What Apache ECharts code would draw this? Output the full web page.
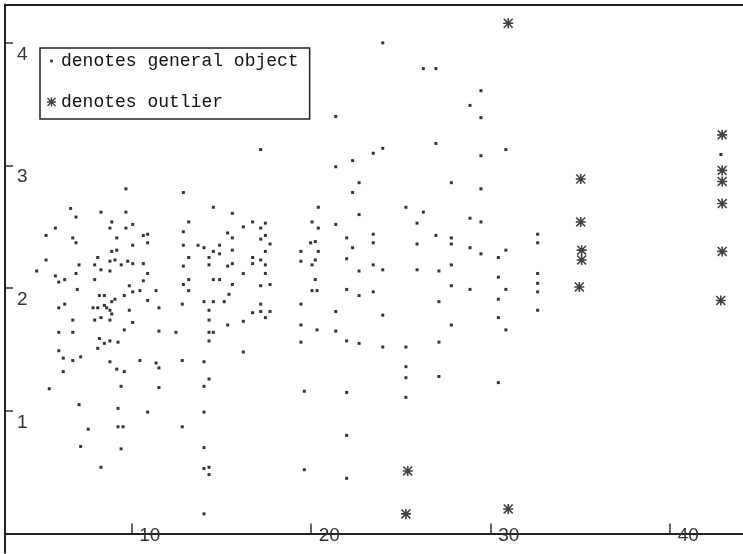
<!DOCTYPE html>
<html>
<head>
<meta charset="utf-8">
<script src="https://cdn.jsdelivr.net/npm/echarts@6/dist/echarts.min.js"></script>
<style>html,body{margin:0;padding:0;background:#fff}#c{width:743px;height:554px}</style>
</head>
<body>
<div id="c"></div>
<script>
const xTicks = [10, 20, 30, 40];
const yTicks = [1, 2, 3, 4];
const seriesNames = ['denotes general object', 'denotes outlier'];

const generalObjects = [
[9.70,2.81],[12.90,2.78],[6.62,2.65],[8.31,2.62],[9.70,2.62],[14.57,2.66],[15.63,2.61],[6.92,2.58],[8.91,2.54],[13.20,2.54],
[5.77,2.49],[8.81,2.49],[9.70,2.49],[10.08,2.52],[16.24,2.50],[12.90,2.46],[15.37,2.45],[5.25,2.43],[6.74,2.41],[9.19,2.41],
[10.67,2.43],[10.91,2.44],[15.63,2.41],[6.92,2.37],[10.91,2.37],[10.08,2.35],[12.90,2.35],[13.72,2.35],[14.05,2.33],[14.92,2.35],
[8.91,2.30],[9.19,2.31],[14.57,2.30],[14.92,2.28],[15.63,2.31],[8.13,2.25],[13.20,2.25],[14.33,2.25],[5.25,2.23],[8.81,2.22],
[9.09,2.23],[9.80,2.22],[10.08,2.20],[10.67,2.20],[7.09,2.19],[7.96,2.19],[9.44,2.19],[14.33,2.19],[15.63,2.20],[15.37,2.18],
[12.90,2.18],[4.73,2.14],[8.31,2.15],[8.81,2.14],[6.92,2.12],[10.91,2.12],[16.24,2.12],[5.77,2.10],[5.96,2.05],[6.29,2.07],
[7.96,2.07],[13.20,2.07],[14.57,2.07],[14.92,2.07],[10.67,2.06],[9.89,2.02],[12.90,2.03],[15.63,2.03],[6.99,1.99],[13.20,1.98],
[10.08,1.97],[10.48,1.98],[11.38,1.98],[8.22,1.94],[8.50,1.94],[9.61,1.94],[15.44,1.95],[9.09,1.91],[8.91,1.89],[10.91,1.90],
[14.05,1.89],[14.57,1.89],[15.18,1.89],[12.84,1.87],[6.29,1.87],[8.50,1.86],[5.96,1.84],[7.87,1.84],[8.13,1.84],[8.63,1.84],
[8.81,1.82],[9.89,1.82],[11.54,1.84],[14.33,1.82],[8.91,1.79],[6.74,1.74],[7.96,1.74],[8.31,1.76],[8.81,1.74],[14.33,1.74],
[16.24,1.73],[10.08,1.72],[15.37,1.70],[9.61,1.66],[5.96,1.64],[6.74,1.64],[11.54,1.65],[12.49,1.64],[14.33,1.64],[14.57,1.64],
[8.22,1.59],[8.50,1.55],[8.81,1.57],[9.26,1.56],[14.33,1.57],[8.13,1.51],[5.96,1.49],[16.24,1.48],[6.21,1.43],[6.74,1.41],
[7.18,1.44],[8.81,1.40],[10.48,1.41],[11.38,1.39],[11.54,1.35],[12.84,1.41],[14.05,1.40],[6.21,1.32],[9.19,1.34],[9.61,1.32],
[14.33,1.26],[5.43,1.18],[9.43,1.20],[11.54,1.19],[14.05,1.20],[7.09,1.05],[9.26,1.02],[10.91,0.99],[14.05,0.99],[7.60,0.85],
[9.26,0.87],[9.54,0.87],[12.84,0.87],[7.18,0.71],[9.43,0.69],[14.05,0.70],[8.31,0.54],[14.05,0.53],[14.33,0.54],[14.33,0.48],
[14.05,0.16],
[24.01,4.00],[26.27,3.79],[26.97,3.79],[29.48,3.61],[28.87,3.49],[29.48,3.39],[21.39,3.40],[17.21,3.13],[24.01,3.14],[23.48,3.10],
[26.97,3.18],[22.33,3.04],[29.48,3.08],[21.39,2.99],[22.69,2.86],[27.83,2.86],[22.33,2.78],[29.48,2.81],
[20.42,2.66],[25.30,2.66],[26.27,2.62],[16.76,2.54],[17.21,2.49],[17.47,2.53],[20.07,2.54],[20.42,2.49],[21.39,2.52],[22.69,2.60],
[25.92,2.53],[28.87,2.57],[29.48,2.54],[17.21,2.40],[17.47,2.43],[17.73,2.36],[19.99,2.37],[20.25,2.38],[22.00,2.41],[23.48,2.44],
[23.48,2.37],[26.97,2.43],[27.83,2.41],[27.83,2.36],[25.92,2.36],[22.33,2.33],[28.87,2.33],[17.47,2.30],[19.45,2.30],[20.42,2.30],
[29.48,2.28],[16.76,2.25],[17.21,2.23],[19.45,2.22],[20.25,2.23],[22.00,2.24],[30.45,2.25],[16.76,2.20],[17.47,2.19],[20.07,2.19],
[23.48,2.19],[27.83,2.19],[17.47,2.12],[22.69,2.14],[24.01,2.15],[25.92,2.15],[27.14,2.14],[20.25,2.07],[30.45,2.09],[17.21,2.02],
[17.73,2.03],[20.07,1.98],[20.35,1.98],[27.83,2.02],[28.87,1.99],[22.00,1.99],[22.69,1.94],[23.48,1.97],[30.45,1.91],[19.45,1.87],
[27.14,1.89],[17.21,1.87],[16.76,1.80],[17.21,1.81],[17.73,1.81],[17.47,1.76],[21.39,1.81],[24.01,1.78],[30.45,1.76],[19.45,1.70],
[27.83,1.70],[20.35,1.66],[21.39,1.65],[22.00,1.57],[22.69,1.55],[19.45,1.56],[27.14,1.56],[24.01,1.52],[25.30,1.52],[25.30,1.36],
[25.30,1.27],[27.14,1.28],
[30.45,1.23],[25.30,1.11],[19.64,1.16],[22.00,1.15],[22.00,0.80],[19.64,0.52],[22.00,0.45],
[30.87,3.13],[42.85,3.09],[32.64,2.44],[32.64,2.37],[30.87,2.31],[32.64,2.12],[32.64,2.04],[30.87,1.99],[32.64,1.97],[32.64,1.82],
[30.87,1.66]
];

const outliers = [
[31.00,4.16],[35.04,2.89],[35.04,2.54],[35.09,2.31],[35.09,2.23],[34.96,2.01],[42.92,3.25],[42.92,2.96],[42.92,2.87],[42.92,2.69],
[42.92,2.30],[42.84,1.90],[25.40,0.51],[25.30,0.16],[31.00,0.20]
];

const STAR = 'path://M0,4.2H10V5.8H0Z M4.2,0H5.8V10H4.2Z M1.1,0L10,8.9L8.9,10L0,1.1Z M8.9,0L10,1.1L1.1,10L0,8.9Z';
const DOT_ICON = 'path://M0,0L0,0M3.5,3.5H6.5V6.5H3.5ZM10,10L10,10';

const chart = echarts.init(document.getElementById('c'), null, {renderer: 'canvas'});
chart.setOption({
  animation: false,
  backgroundColor: '#fff',
  grid: {left: 5, top: 4.5, right: 0, bottom: 1.3, show: false, containLabel: false},
  legend: {
    left: 40, top: 48, orient: 'vertical', selectedMode: false,
    itemWidth: 9, itemHeight: 9, itemGap: 21, itemTextGap: 8,
    padding: [3, 11, 7, 7],
    borderColor: '#222', borderWidth: 1.5, backgroundColor: '#fff',
    textStyle: {fontFamily: 'Liberation Mono', fontSize: 18, color: '#111', lineHeight: 20},
    data: [{name: seriesNames[0], icon: DOT_ICON}, {name: seriesNames[1], icon: STAR}]
  },
  xAxis: [{
    type: 'value', min: 2.964, max: 44.08, position: 'bottom',
    splitLine: {show: false},
    axisLine: {show: true, lineStyle: {color: '#222', width: 2}},
    axisTick: {show: true, inside: true, length: 10, customValues: xTicks, lineStyle: {color: '#333', width: 1.5}},
    axisLabel: {show: true, inside: true, customValues: xTicks, margin: 7, align: 'left', padding: [0, 0, 0, 8],
      fontFamily: 'Liberation Sans', fontSize: 19, color: '#333'}
  }, {
    type: 'value', min: 2.964, max: 44.08, position: 'top',
    splitLine: {show: false},
    axisLine: {show: true, lineStyle: {color: '#222', width: 2}},
    axisTick: {show: false}, axisLabel: {show: false}
  }],
  yAxis: {
    type: 'value', min: -0.1565, max: 4.3127,
    splitLine: {show: false},
    axisLine: {show: true, lineStyle: {color: '#222', width: 2}},
    axisTick: {show: true, inside: true, length: 8, customValues: yTicks, lineStyle: {color: '#333', width: 1.5}},
    axisLabel: {show: true, inside: true, customValues: yTicks, margin: 12, align: 'left', verticalAlign: 'top', padding: [2, 0, 0, 0],
      fontFamily: 'Liberation Sans', fontSize: 19, color: '#333'}
  },
  series: [
    {name: seriesNames[0], type: 'scatter', symbol: 'rect', symbolSize: 3, data: generalObjects,
      itemStyle: {color: '#000'}, silent: true},
    {name: seriesNames[1], type: 'scatter', symbol: STAR, symbolSize: [10, 10], data: outliers,
      itemStyle: {color: '#111'}, silent: true}
  ]
});
</script>
</body>
</html>
